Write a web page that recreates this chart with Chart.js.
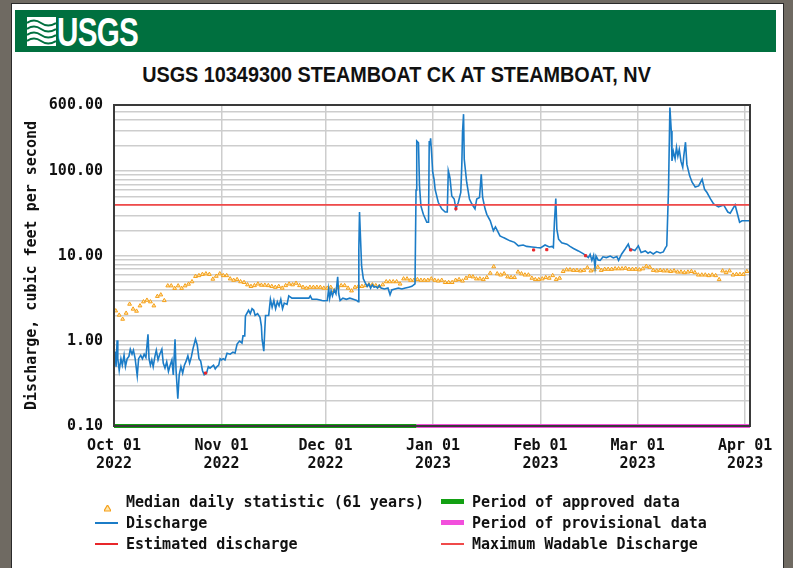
<!DOCTYPE html>
<html><head><meta charset="utf-8">
<script src="https://cdn.jsdelivr.net/npm/chart.js@4.4.0/dist/chart.umd.min.js"></script>
<style>
html,body{margin:0;padding:0;width:793px;height:568px;overflow:hidden;background:#6f6a62;}
#panel{position:absolute;left:11px;top:3px;width:771px;height:580px;background:#fff;border:1px solid #2a2a2a;}
#banner{position:absolute;left:15px;top:10px;width:761px;height:42px;background:#00703f;}
#logotext{position:absolute;left:57px;top:10px;height:42px;line-height:42px;color:#fff;font:bold 40px "Liberation Sans Narrow","Liberation Sans",sans-serif;letter-spacing:-1px;transform:scaleX(0.74);transform-origin:0 50%;}
#wave{position:absolute;left:27px;top:17px;}
#title{position:absolute;left:0;width:793px;top:62px;text-align:center;color:#111;font:bold 22px "Liberation Sans Narrow","Liberation Sans",sans-serif;transform:scaleX(0.9);transform-origin:397px 50%;}
#wrap{position:absolute;left:0;top:0;width:793px;height:568px;}
.lg{position:absolute;font:bold 15px "DejaVu Sans Mono",monospace;color:#111;white-space:pre;line-height:18px;}
.mk{position:absolute;}
</style></head>
<body>
<div id="panel"></div>
<div id="banner"></div>
<svg id="wave" width="29" height="29" viewBox="0 0 29 29">
<rect x="0" y="0" width="29" height="29" fill="#ffffff"/>
<path d="M0 6 Q7 1 14 6 T29 6" stroke="#00703f" stroke-width="2" fill="none"/>
<path d="M0 12 Q7 7 14 12 T29 12" stroke="#00703f" stroke-width="2" fill="none"/>
<path d="M0 18 Q7 13 14 18 T29 18" stroke="#00703f" stroke-width="2" fill="none"/>
<path d="M0 24 Q7 19 14 24 T29 24" stroke="#00703f" stroke-width="2" fill="none"/>
</svg>
<div id="logotext">USGS</div>
<div id="title">USGS 10349300 STEAMBOAT CK AT STEAMBOAT, NV</div>
<div id="wrap"><canvas id="c" width="793" height="568"></canvas></div>
<div id="legend"></div>
<script>
// ---- data (days since 2022-10-01) ----
const monthTickDays = [0, 31, 61, 92, 123, 151, 182];
const monthTickLabels = [['Oct 01','2022'],['Nov 01','2022'],['Dec 01','2022'],['Jan 01','2023'],['Feb 01','2023'],['Mar 01','2023'],['Apr 01','2023']];
const yGridValues = [0.1,0.2,0.3,0.4,0.5,0.6,0.7,0.8,0.9,1,2,3,4,5,6,7,8,9,10,20,30,40,50,60,70,80,90,100,200,300,400,500,600];
const yLabelValues = [0.1, 1, 10, 100, 600];
const xMaxDay = 183.4;
const approvedEndDay = 87.2;
const maxWadableCfs = 40;

// median daily statistic, one value per day starting Oct 01
const medianCfs = [
2.27,2.02,1.81,2.13,2.72,2.38,2.25,2.6,2.9,3.03,
2.9,2.6,3.36,3.5,3.0,4.47,4.47,4.17,4.47,4.17,
4.47,4.68,5.0,5.77,5.9,6.1,6.2,6.1,5.36,5.8,
6.2,5.9,5.9,5.4,5.2,5.3,5.0,4.9,4.6,4.4,
4.5,4.7,4.55,4.55,4.5,4.4,4.3,4.4,4.2,4.5,
4.7,4.6,4.8,4.5,4.3,4.2,4.3,4.3,4.3,4.3,
4.2,4.2,4.3,3.9,4.3,4.5,4.5,4.2,3.9,4.3,
4.4,4.4,4.5,4.6,4.6,4.5,4.4,4.6,5.0,5.0,
5.0,5.0,4.7,5.4,5.4,5.2,5.2,5.3,5.2,5.2,
5.2,5.4,5.2,5.1,5.2,4.9,4.9,4.9,5.2,5.3,
5.1,5.5,5.8,5.7,5.4,5.4,5.3,5.6,6.3,7.5,
6.2,6.0,6.2,5.7,5.6,5.6,6.5,6.2,6.0,6.0,
5.5,5.3,5.3,5.4,5.6,5.5,5.9,5.3,5.5,6.6,
6.9,6.9,6.8,6.8,6.7,6.8,7.3,6.7,6.9,7.4,
6.8,7.0,7.0,7.0,7.1,7.1,7.1,7.2,7.0,7.0,
7.0,6.9,7.1,7.6,7.4,6.8,6.7,6.8,6.7,6.7,
6.6,6.7,6.5,6.5,6.4,6.5,6.6,6.4,6.0,6.0,
6.0,5.9,6.0,5.9,5.3,6.7,6.4,6.7,6.0,6.1,
6.1,6.1,6.6
];

// discharge: day offsets and cfs
const qDays = [
0.0,0.3,0.6,0.9,1.1,1.5,2.0,2.4,2.9,3.3,3.8,4.3,4.7,5.2,5.6,6.1,6.7,7.1,7.7,8.2,8.7,9.2,9.8,10.1,10.5,10.9,11.3,11.8,12.2,12.7,13.2,13.8,14.2,14.7,15.2,15.7,16.2,16.7,17.1,17.6,17.9,18.4,18.8,19.3,19.8,20.3,20.8,21.3,21.8,22.3,22.8,23.5,24.0,24.5,25.0,25.5,26.0,26.7,27.2,27.7,28.2,28.7,29.2,29.7,30.2,30.6,31.0,
31.5,32.0,32.6,33.5,34.3,34.9,35.5,36.2,36.9,37.2,37.7,37.9,38.8,39.3,39.8,40.3,40.7,41.4,42.1,42.5,42.7,43.2,43.5,43.7,44.6,45.1,45.6,46.1,46.6,47.1,47.6,48.1,48.6,49.1,49.9,50.4,51.3,52.5,53.8,55.0,56.2,56.6,57.1,58.5,60.0,60.5,61.5,61.9,
62.2,62.6,63.0,63.5,64.0,64.5,64.8,65.2,66.0,67.0,68.0,69.0,70.0,70.4,70.6,70.8,71.0,71.4,71.9,72.4,73.0,73.5,74.0,74.5,75.0,75.5,76.0,76.5,77.0,78.0,79.0,79.6,80.1,81.0,82.0,83.0,84.0,85.0,85.9,86.8,
87.1,87.3,87.8,88.1,88.5,89.2,90.2,90.7,90.9,91.1,91.3,91.6,91.9,92.3,92.6,93.5,94.5,95.5,96.1,96.4,96.7,96.9,97.4,98.1,98.6,99.3,100.0,100.3,100.5,100.8,101.0,101.7,102.5,103.2,104.1,104.6,105.4,105.9,106.3,107.0,107.5,108.5,109.4,110.0,110.4,111.3,112.3,113.0,114.2,115.5,116.6,118.0,119.0,120.5,121.9,123.0,124.3,
125.5,126.3,126.7,127.0,127.4,127.7,128.2,129.1,130.6,131.5,132.5,133.9,135.4,136.8,137.3,137.8,138.3,138.7,139.0,139.6,140.2,141.0,142.0,143.1,144.0,145.0,145.5,146.4,147.4,148.3,148.8,149.3,150.2,151.2,152.0,153.2,154.0,154.6,155.5,156.5,157.5,158.4,159.0,159.4,
159.9,160.3,160.7,160.9,161.3,161.8,162.2,162.6,163.0,163.5,164.0,164.3,164.8,165.2,166.0,166.7,167.6,168.6,169.6,170.3,171.0,172.0,172.9,174.3,175.8,177.0,177.7,179.1,179.9,180.4,181.1,182.0,183.3
];
const qCfs = [
0.55,0.75,0.50,1.02,0.62,0.45,0.62,0.52,0.68,0.50,0.62,0.66,0.80,0.70,0.78,0.62,0.39,0.62,0.68,0.62,0.70,0.64,1.20,0.62,0.52,0.60,0.50,0.66,0.78,0.60,0.70,0.80,0.55,0.48,0.57,0.44,0.52,0.60,0.40,1.05,0.45,0.21,0.40,0.50,0.42,0.52,0.58,0.67,0.55,0.65,0.82,1.05,0.90,0.62,0.58,0.45,0.40,0.42,0.50,0.48,0.50,0.52,0.47,0.50,0.52,0.62,0.60,
0.62,0.60,0.72,0.70,0.74,0.72,0.92,1.0,0.95,1.15,1.15,1.97,2.3,2.1,2.4,2.3,2.0,2.1,1.9,1.5,1.05,0.76,1.4,2.0,2.0,3.1,2.5,3.0,2.4,2.9,2.6,3.1,2.4,2.8,2.7,3.4,3.2,3.2,3.2,3.2,3.2,3.4,3.1,3.1,3.0,2.98,3.0,4.1,
3.2,3.9,3.4,4.0,3.6,5.7,3.6,3.0,3.2,3.1,3.2,3.1,3.0,2.9,12,33,20,7.6,5.4,4.9,4.4,4.7,4.2,4.6,4.3,4.4,4.2,4.5,4.2,4.1,4.2,3.5,4.0,4.1,4.2,4.1,4.2,4.3,4.4,4.7,
60,226,215,67,39,31,25,25,226,200,243,160,97,80,61,43,36,33,33,101,90,82,51,47,36,43,56,120,286,468,138,74,47,41,36,47,49,92,49,36,31,26,19.9,22,20.5,17.3,16.5,16,15.1,14.5,13.2,13.5,13.0,12.8,12.6,12.5,13.5,
12.8,13.0,12.6,25,47.5,20.8,15.8,14.3,13.8,13.0,12.3,11.5,10.6,9.6,10.5,8.9,10.2,7.4,10.0,9.0,8.9,9.8,9.6,10.0,9.5,9.9,8.9,10.6,12.1,13.8,12.0,12.0,11.6,13.2,11.0,11.5,10.8,11.2,10.6,11.3,10.9,11.2,12.5,13.2,
61,560,297,132,170,140,190,150,180,130,111,150,219,120,88,74,65,67,80,61,56,47,41,38,40,33,32,40,30,25,26,26,26
];

// estimated discharge (short red pieces)
const estDays = [26.4, 98.6, 121.0, 124.8, 136.0, 149.0];
const estCfs  = [0.42, 36, 11.8, 11.9, 10.1, 11.8];

const FONT = {family:'"DejaVu Sans Mono", monospace', weight:'bold', size:15};

const frame = {
  id:'frame',
  afterDatasetsDraw(chart){
    const a = chart.chartArea, c = chart.ctx;
    c.save(); c.strokeStyle = '#3a3a3a'; c.lineWidth = 2;
    c.strokeRect(a.left, a.top, a.right - a.left, a.bottom - a.top);
    c.restore();
  }
};

const chart = new Chart(document.getElementById('c'), {
  type:'line',
  data:{datasets:[
    {label:'Median daily statistic (61 years)', data: medianCfs.map((v,i)=>({x:i+0.5,y:v})), showLine:false,
     pointStyle:'triangle', pointRadius:2.2, pointBorderWidth:1, borderColor:'#f5a01a', backgroundColor:'#ffe7b0', order:3},
    {label:'Discharge', data: qDays.map((d,i)=>({x:d,y:qCfs[i]})), borderColor:'#1b7cc7', borderWidth:1.6, pointRadius:0, tension:0, order:2},
    {label:'Estimated discharge', data: estDays.map((d,i)=>({x:d,y:estCfs[i]})), showLine:false, pointStyle:'rect', pointRadius:1.5, borderColor:'#e8262a', backgroundColor:'#e8262a', order:1},
    {label:'Period of approved data', data:[{x:0,y:0.1},{x:approvedEndDay,y:0.1}], borderColor:'#13a013', borderWidth:4, pointRadius:0, clip:false, order:1},
    {label:'Period of provisional data', data:[{x:approvedEndDay,y:0.1},{x:xMaxDay,y:0.1}], borderColor:'#f24fdc', borderWidth:4, pointRadius:0, clip:false, order:1},
    {label:'Maximum Wadable Discharge', data:[{x:0,y:maxWadableCfs},{x:xMaxDay,y:maxWadableCfs}], borderColor:'#f04a4a', borderWidth:1.6, pointRadius:0, order:1}
  ]},
  options:{
    responsive:false, animation:false, devicePixelRatio:1,
    layout:{padding:{left:0, top:105, right:43, bottom:92}},
    plugins:{legend:{display:false}, tooltip:{enabled:false}},
    scales:{
      x:{type:'linear', min:0, max:xMaxDay,
        afterBuildTicks: s => { s.ticks = monthTickDays.map(v=>({value:v})); },
        afterFit: s => { s.height = 50; },
        ticks:{autoSkip:false, maxRotation:0, padding:11, color:'#111', font:FONT, callback:(v,i)=>monthTickLabels[i]},
        grid:{color:'#cdcdcd', lineWidth:1.5, drawTicks:false},
        border:{display:false}
      },
      y:{type:'logarithmic', min:0.1, max:600,
        afterBuildTicks: s => { s.ticks = yGridValues.map(v=>({value:v})); },
        afterFit: s => { s.width = 114; },
        ticks:{autoSkip:false, padding:11, color:'#111', font:FONT, callback:(v)=> yLabelValues.includes(v) ? v.toFixed(2) : ''},
        grid:{color:'#cdcdcd', lineWidth:1.5, drawTicks:false},
        border:{display:false},
        title:{display:true, text:'Discharge, cubic feet per second', color:'#111', font:FONT, padding:{top:23,bottom:0}}
      }
    }
  },
  plugins:[frame]
});

// HTML legend built from the datasets
const legendPos = [
  {x:95, y:502, kind:'dot'}, {x:95, y:523, kind:'line'}, {x:95, y:544, kind:'line'},
  {x:441, y:502, kind:'bar'}, {x:441, y:523, kind:'bar'}, {x:441, y:544, kind:'line'}
];
const lg = document.getElementById('legend');
chart.data.datasets.forEach((ds,i)=>{
  const p = legendPos[i];
  const m = document.createElement('div'); m.className='mk';
  if (p.kind==='dot'){
    m.innerHTML = '<svg width="7" height="7"><polygon points="3.5,0 7,6 0,6" fill="#ffe7b0" stroke="#f5a01a" stroke-width="1.2"/></svg>';
    m.style.left=(p.x+9)+'px'; m.style.top=(p.y-4)+'px';
  } else {
    const h = p.kind==='bar'?5:2;
    m.style.left=p.x+'px'; m.style.top=(p.y-Math.round(h/2))+'px';
    m.style.width='23px'; m.style.height=h+'px'; m.style.background=ds.borderColor;
  }
  lg.appendChild(m);
  const t = document.createElement('div'); t.className='lg';
  t.textContent = ds.label; t.style.left=(p.x+31)+'px'; t.style.top=(p.y-9)+'px';
  lg.appendChild(t);
});
</script>
</body></html>
